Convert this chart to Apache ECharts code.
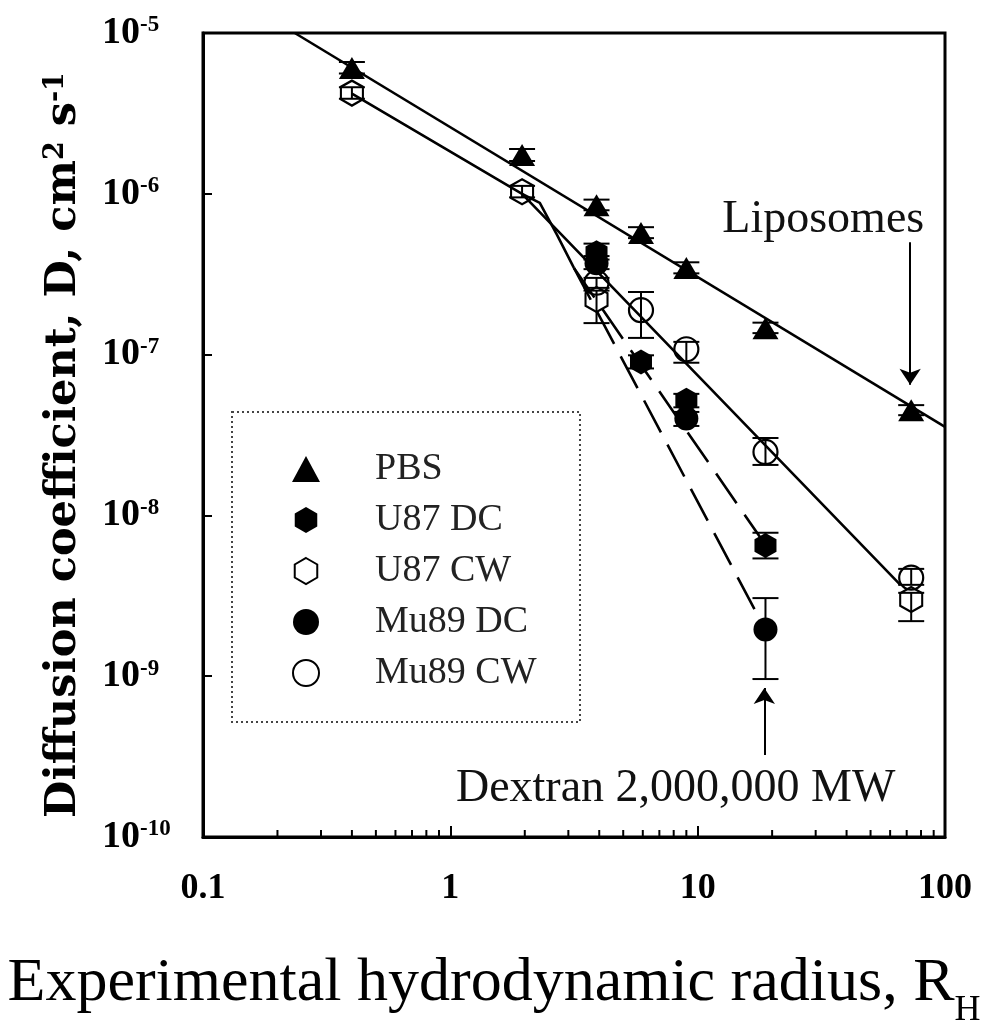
<!DOCTYPE html>
<html><head><meta charset="utf-8">
<script src="https://cdn.jsdelivr.net/npm/echarts@6/dist/echarts.min.js"></script>
<style>html,body{margin:0;padding:0;background:#fff}#c{width:981px;height:1021px}</style>
</head><body><div id="c"></div>
<script>
// ---------- data ----------
const seriesNames = ['PBS', 'U87 DC', 'U87 CW', 'Mu89 DC', 'Mu89 CW'];

const pbsR  = [0.4, 1.95, 3.9, 5.9, 9, 18.8, 73];
const pbsD  = [6.05e-6, 1.74e-6, 8.5e-7, 5.7e-7, 3.46e-7, 1.46e-7, 4.5e-8];
const pbsLo = [5.6e-6, 1.6e-6, 7.9e-7, 5.3e-7, 3.2e-7, 1.36e-7, 4.2e-8];
const pbsHi = [6.6e-6, 1.9e-6, 9.2e-7, 6.2e-7, 3.75e-7, 1.58e-7, 4.85e-8];

const u87DcR  = [3.9, 5.9, 9, 18.8];
const u87DcD  = [4.3e-7, 9.0e-8, 5.2e-8, 6.5e-9];
const u87DcLo = [3.9e-7, 8.2e-8, 4.7e-8, 5.4e-9];
const u87DcHi = [4.9e-7, 9.9e-8, 5.7e-8, 7.8e-9];

const u87CwR  = [0.4, 1.95, 3.9, 73];
const u87CwD  = [4.23e-6, 1.03e-6, 2.2e-7, 3.0e-9];
const u87CwLo = [3.9e-6, 0.95e-6, 1.57e-7, 2.2e-9];
const u87CwHi = [4.6e-6, 1.12e-6, 2.5e-7, 3.3e-9];

const mu89DcR  = [3.9, 9, 18.8];
const mu89DcD  = [3.7e-7, 4.0e-8, 1.95e-9];
const mu89DcLo = [3.4e-7, 3.6e-8, 9.6e-10];
const mu89DcHi = [4.1e-7, 4.4e-8, 3.06e-9];

const mu89CwR  = [3.9, 5.9, 9, 18.8, 73];
const mu89CwD  = [2.8e-7, 1.89e-7, 1.08e-7, 2.48e-8, 4.1e-9];
const mu89CwLo = [2.6e-7, 1.27e-7, 8.9e-8, 2.06e-8, 3.7e-9];
const mu89CwHi = [3.0e-7, 2.45e-7, 1.2e-7, 3.03e-8, 4.65e-9];

// fitted curves
const pbsFitR = [0.235, 100];
const pbsFitD = [1e-5, 3.55e-8];
const cwFitR  = [0.4, 1.95, 66];
const cwFitD  = [4.2e-6, 1.0e-6, 3.7e-9];
const dcCurveR = [1.95, 2.3, 2.7, 3.16];
const dcCurveD = [1.0e-6, 8.77e-7, 5.55e-7, 3.46e-7];
const u87DcFitR = [3.16, 18.8];
const u87DcFitD = [3.46e-7, 6.55e-9];
const mu89DcFitR = [3.16, 18.8];
const mu89DcFitD = [3.46e-7, 1.94e-9];

// axes
const xTickLabels = [0.1, 1, 10, 100];
const yExponents = [-10, -9, -8, -7, -6, -5];
const minorMultipliers = [2, 3, 4, 5, 6, 7, 8, 9];

// ---------- helpers ----------
const zip = (xs, ys) => xs.map((x, i) => [x, ys[i]]);
const zip3 = (xs, a, b) => xs.map((x, i) => [x, a[i], b[i]]);
const hexPath = 'path://M50,0 L93.3,25 L93.3,75 L50,100 L6.7,75 L6.7,25 Z';
const serif = 'Liberation Serif, Times New Roman, serif';

const minorTicks = [];
for (let d = 0; d < xTickLabels.length - 1; d++) {
  minorMultipliers.forEach(m => minorTicks.push([xTickLabels[d] * m, Math.pow(10, yExponents[0])]));
}

function errRender(params, api) {
  const x = api.value(0), lo = api.value(1), hi = api.value(2);
  const a = api.coord([x, lo]), b = api.coord([x, hi]);
  const w = 13, st = { stroke: '#000', lineWidth: 2 };
  return { type: 'group', children: [
    { type: 'line', shape: { x1: a[0], y1: a[1], x2: b[0], y2: b[1] }, style: st },
    { type: 'line', shape: { x1: a[0] - w, y1: a[1], x2: a[0] + w, y2: a[1] }, style: st },
    { type: 'line', shape: { x1: b[0] - w, y1: b[1], x2: b[0] + w, y2: b[1] }, style: st }
  ]};
}
function minorRender(params, api) {
  const p = api.coord([api.value(0), api.value(1)]);
  return { type: 'line', shape: { x1: p[0], y1: p[1], x2: p[0], y2: p[1] - 7 }, style: { stroke: '#000', lineWidth: 2 } };
}
const errSeries = (data) => ({ type: 'custom', renderItem: errRender, data, encode: { x: 0, y: [1, 2] }, z: 3, silent: true, clip: false });
const fitLine = (data, dashed) => ({
  type: 'line', data, symbol: 'none', silent: true, z: 2,
  lineStyle: { color: '#000', width: 2.6, type: dashed ? [36, 14] : 'solid' }
});
const openStyle = { color: 'rgba(255,255,255,0)', borderColor: '#000', borderWidth: 2.2, opacity: 1 };
const fillStyle = { color: '#000', opacity: 1 };

const chart = echarts.init(document.getElementById('c'), null, { renderer: 'canvas' });
chart.setOption({
  animation: false,
  backgroundColor: '#fff',
  grid: { left: 203, right: 36, top: 33, bottom: 184, containLabel: false, outerBoundsMode: 'none', show: true, borderColor: '#000', borderWidth: 3, backgroundColor: 'transparent' },
  xAxis: {
    type: 'log', logBase: 10, min: 0.1, max: 100,
    axisLine: { show: true, lineStyle: { color: '#000', width: 3 } },
    axisTick: { show: true, inside: true, length: 11, lineStyle: { color: '#000', width: 2 } },
    minorTick: { show: false },
    splitLine: { show: false },
    axisLabel: {
      margin: 34, color: '#000', fontFamily: serif, fontWeight: 'bold', fontSize: 36,
      formatter: v => String(+(+v).toPrecision(3))
    },
    name: 'Experimental hydrodynamic radius, R{sub|H}',
    nameLocation: 'middle', nameGap: 116,
    nameTextStyle: {
      color: '#000', fontFamily: serif, fontSize: 62, align: 'center', padding: [0, 160, 0, 0],
      rich: { sub: { fontFamily: serif, fontSize: 36, verticalAlign: 'bottom', lineHeight: 40, padding: [0, 0, -14, 0] } }
    }
  },
  yAxis: {
    type: 'log', logBase: 10, min: 1e-10, max: 1e-5,
    axisLine: { show: true, lineStyle: { color: '#000', width: 3 } },
    axisTick: { show: true, inside: true, length: 9, lineStyle: { color: '#000', width: 2 } },
    splitLine: { show: false },
    axisLabel: {
      margin: 101, align: 'left',
      formatter: v => '{b|10}{s|' + Math.round(Math.log10(v)) + '}',
      rich: {
        b: { fontFamily: serif, fontWeight: 'bold', fontSize: 38, color: '#000', lineHeight: 38 },
        s: { fontFamily: serif, fontWeight: 'bold', fontSize: 23, color: '#000', verticalAlign: 'top', lineHeight: 26 }
      }
    },
    name: 'Diffusion coefficient, D, cm{sup|2} s{sup|-1}',
    nameLocation: 'middle', nameGap: 118, nameRotate: 90,
    nameTextStyle: {
      color: '#000', fontFamily: 'DejaVu Serif, serif', fontWeight: 'bold', fontSize: 43, padding: [0, 20, 0, 0],
      rich: { sup: { fontFamily: 'DejaVu Serif, serif', fontWeight: 'bold', fontSize: 27, verticalAlign: 'top', lineHeight: 28 } }
    }
  },
  legend: {
    data: seriesNames, orient: 'vertical', left: 292, top: 450, padding: 0,
    itemWidth: 28, itemHeight: 26, itemGap: 13,
    textStyle: { fontFamily: serif, fontSize: 38, color: '#222', lineHeight: 26, padding: [0, 0, 0, 50] }
  },
  graphic: [{
    type: 'rect', silent: true, z: 0,
    shape: { x: 232, y: 412, width: 348, height: 310 },
    style: { fill: 'none', stroke: '#444', lineWidth: 2, lineDash: [2, 3] }
  }],
  series: [
    fitLine(zip(pbsFitR, pbsFitD)),
    fitLine(zip(cwFitR, cwFitD)),
    fitLine(zip(dcCurveR, dcCurveD)),
    fitLine(zip(u87DcFitR, u87DcFitD), true),
    fitLine(zip(mu89DcFitR, mu89DcFitD), true),
    errSeries(zip3(pbsR, pbsLo, pbsHi)),
    errSeries(zip3(u87DcR, u87DcLo, u87DcHi)),
    errSeries(zip3(u87CwR, u87CwLo, u87CwHi)),
    errSeries(zip3(mu89DcR, mu89DcLo, mu89DcHi)),
    errSeries(zip3(mu89CwR, mu89CwLo, mu89CwHi)),
    { name: 'PBS', type: 'scatter', symbol: 'triangle', symbolSize: [26, 22], data: zip(pbsR, pbsD), itemStyle: fillStyle, z: 4 },
    { name: 'U87 DC', type: 'scatter', symbol: hexPath, symbolSize: [22, 25], data: zip(u87DcR, u87DcD), itemStyle: fillStyle, z: 4 },
    { name: 'U87 CW', type: 'scatter', symbol: hexPath, symbolSize: [22, 25], data: zip(u87CwR, u87CwD), itemStyle: openStyle, z: 4 },
    { name: 'Mu89 DC', type: 'scatter', symbol: 'circle', symbolSize: 24, data: zip(mu89DcR, mu89DcD), itemStyle: fillStyle, z: 4 },
    { name: 'Mu89 CW', type: 'scatter', symbol: 'circle', symbolSize: 24, data: zip(mu89CwR, mu89CwD), itemStyle: openStyle, z: 4 },
    { type: 'custom', renderItem: minorRender, data: minorTicks, encode: { x: 0, y: 1 }, silent: true, clip: false, z: 5 },
    {
      type: 'scatter', name: 'notes', silent: true, symbolSize: 1, itemStyle: { color: 'rgba(0,0,0,0)', opacity: 1 }, z: 6,
      label: { show: true, position: 'inside', fontFamily: serif, fontSize: 46, color: '#111', opacity: 1 },
      data: [
        { value: [32.2, 6.9e-7], label: { formatter: 'Liposomes' } },
        { value: [8.15, 2.0e-10], label: { formatter: 'Dextran 2,000,000 MW' } }
      ],
      markLine: {
        silent: true, symbol: ['none', 'arrow'], symbolSize: 16, animation: false,
        label: { show: false },
        lineStyle: { color: '#000', width: 2, type: 'solid', opacity: 1 },
        data: [
          [{ coord: [72.3, 5.0e-7] }, { coord: [72.3, 6.5e-8] }],
          [{ coord: [18.6, 3.24e-10] }, { coord: [18.6, 8.45e-10] }]
        ]
      }
    }
  ]
});
</script></body></html>
